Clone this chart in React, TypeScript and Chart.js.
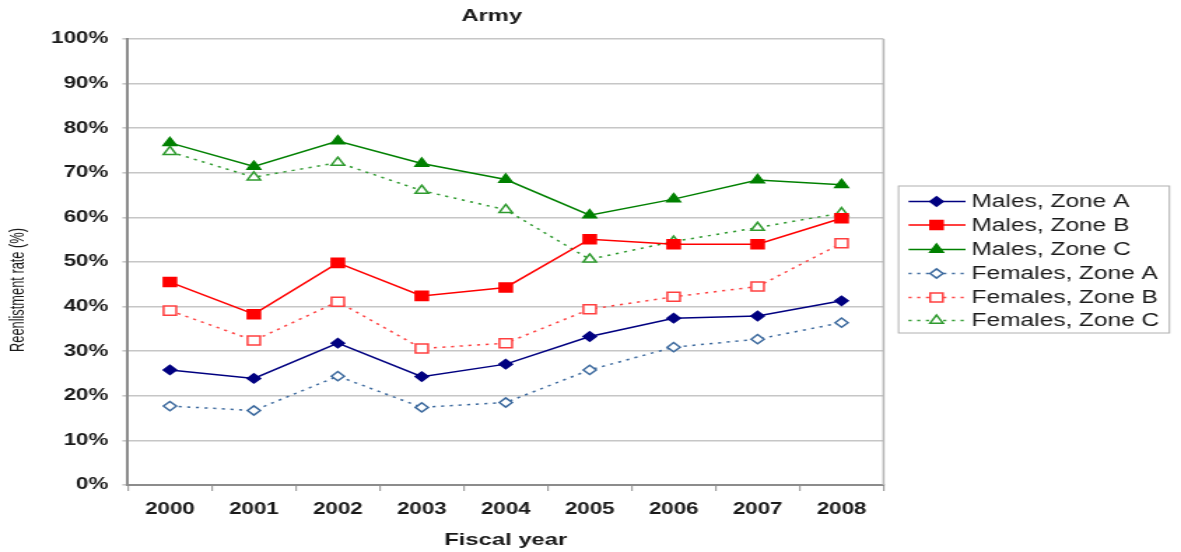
import React, { useEffect, useRef } from "react";
import { Chart, registerables } from "chart.js";

Chart.register(...registerables);

const years = ["2000", "2001", "2002", "2003", "2004", "2005", "2006", "2007", "2008"];
const malesA = [25.8, 23.9, 31.8, 24.3, 27.1, 33.3, 37.4, 37.9, 41.3];
const malesB = [45.5, 38.3, 49.8, 42.4, 44.3, 55.1, 54.0, 54.0, 59.8];
const malesC = [76.7, 71.4, 77.1, 72.1, 68.5, 60.5, 64.1, 68.4, 67.3];
const femalesA = [17.7, 16.7, 24.4, 17.4, 18.5, 25.8, 30.9, 32.7, 36.4];
const femalesB = [39.1, 32.4, 41.1, 30.6, 31.8, 39.4, 42.2, 44.5, 54.2];
const femalesC = [74.7, 69.0, 72.3, 66.0, 61.7, 50.6, 54.6, 57.7, 61.0];
const yTicks = [0, 10, 20, 30, 40, 50, 60, 70, 80, 90, 100];

const seriesNames = [
  "Males, Zone A",
  "Males, Zone B",
  "Males, Zone C",
  "Females, Zone A",
  "Females, Zone B",
  "Females, Zone C",
];

// Reference image is horizontally stretched; render narrower canvas and stretch via CSS
const OUT_W = 1181;
const OUT_H = 552;
const S = 1.4;
const W = Math.round(OUT_W / S);
const H = OUT_H;
const FONT = "'Liberation Sans', Arial, sans-serif";

type Style = {
  color: string;
  fill: string;
  shape: "diamond" | "square" | "triangle";
  dash: number[];
  radius: number;
};

const styles: Style[] = [
  { color: "#000080", fill: "#000080", shape: "diamond", dash: [], radius: 4.6 },
  { color: "#ff0000", fill: "#ff0000", shape: "square", dash: [], radius: 6.4 },
  { color: "#008000", fill: "#008000", shape: "triangle", dash: [], radius: 5.4 },
  { color: "#3d6a9e", fill: "#ffffff", shape: "diamond", dash: [2.2, 4], radius: 4.6 },
  { color: "#ff4040", fill: "#ffffff", shape: "square", dash: [2.2, 4], radius: 6.4 },
  { color: "#2e9a2e", fill: "#ffffff", shape: "triangle", dash: [2.2, 4], radius: 5.4 },
];

const shapeToPointStyle = { diamond: "rectRot", square: "rect", triangle: "triangle" } as const;

function drawMarker(ctx: CanvasRenderingContext2D, st: Style, x: number, y: number) {
  const r = st.radius;
  ctx.save();
  ctx.setLineDash([]);
  ctx.beginPath();
  if (st.shape === "diamond") {
    ctx.moveTo(x, y - r);
    ctx.lineTo(x + r, y);
    ctx.lineTo(x, y + r);
    ctx.lineTo(x - r, y);
    ctx.closePath();
  } else if (st.shape === "square") {
    const h = r * Math.SQRT1_2;
    ctx.rect(x - h, y - h, 2 * h, 2 * h);
  } else {
    const a = r * 0.866;
    ctx.moveTo(x, y - r);
    ctx.lineTo(x + a, y + r / 2);
    ctx.lineTo(x - a, y + r / 2);
    ctx.closePath();
  }
  ctx.fillStyle = st.fill;
  ctx.fill();
  ctx.lineWidth = 1.5;
  ctx.strokeStyle = st.color;
  ctx.stroke();
  ctx.restore();
}

const decorPlugin = {
  id: "decor",
  afterDraw(chart: any) {
    const ctx: CanvasRenderingContext2D = chart.ctx;
    const ca = chart.chartArea;
    ctx.save();
    // right border of plot
    ctx.strokeStyle = "#b8b8b8";
    ctx.lineWidth = 1.6;
    ctx.beginPath();
    ctx.moveTo(ca.right, ca.top);
    ctx.lineTo(ca.right, ca.bottom);
    ctx.stroke();

    const cx = (ca.left + ca.right) / 2;
    ctx.fillStyle = "#1a1a1a";
    ctx.textAlign = "center";
    ctx.textBaseline = "middle";
    ctx.font = `bold 17px ${FONT}`;
    ctx.fillText("Army", 492 / S, 16);
    ctx.fillText("Fiscal year", cx, 540);

    // y-axis title (narrow lettering, fitted to reference length)
    ctx.save();
    ctx.translate(18 / S, 290);
    ctx.rotate(-Math.PI / 2);
    ctx.font = `15px ${FONT}`;
    const tw = ctx.measureText("Reenlistment rate (%)").width;
    ctx.scale(124 / tw, 1);
    ctx.fillText("Reenlistment rate (%)", 0, 0);
    ctx.restore();

    // legend
    const lx = 899 / S;
    const ly = 186;
    const lw = (1170 - 899) / S;
    const lh = 333 - 186;
    ctx.strokeStyle = "#b0b0b0";
    ctx.lineWidth = 1;
    ctx.strokeRect(lx, ly, lw, lh);
    const rowY = [201.5, 225, 249.5, 273.5, 297.5, 320.5];
    ctx.font = `17.5px ${FONT}`;
    ctx.textAlign = "left";
    seriesNames.forEach((name, i) => {
      const st = styles[i];
      const y = rowY[i];
      ctx.save();
      ctx.strokeStyle = st.color;
      ctx.lineWidth = 1.5;
      ctx.setLineDash(st.dash);
      ctx.beginPath();
      ctx.moveTo(909 / S, y);
      ctx.lineTo(966 / S, y);
      ctx.stroke();
      ctx.restore();
      drawMarker(ctx, st, 937 / S, y);
      ctx.fillStyle = "#1a1a1a";
      ctx.fillText(name, 972 / S, y + 1);
    });
    ctx.restore();
  },
};

export default function App() {
  const ref = useRef<HTMLCanvasElement | null>(null);

  useEffect(() => {
    if (!ref.current) return;
    const allData = [malesA, malesB, malesC, femalesA, femalesB, femalesC];
    const chart = new Chart(ref.current, {
      type: "line",
      data: {
        labels: years,
        datasets: allData.map((d, i) => ({
          label: seriesNames[i],
          data: d,
          borderColor: styles[i].color,
          backgroundColor: styles[i].fill,
          borderWidth: 1.5,
          borderDash: styles[i].dash,
          pointStyle: shapeToPointStyle[styles[i].shape],
          pointRadius: styles[i].radius,
          pointBorderWidth: 1.5,
          pointBorderColor: styles[i].color,
          pointBackgroundColor: styles[i].fill,
          tension: 0,
          fill: false,
        })),
      },
      options: {
        responsive: false,
        animation: false,
        events: [],
        layout: { padding: { top: 39, left: 0, right: W - 884 / S, bottom: 0 } },
        plugins: {
          legend: { display: false },
          title: { display: false },
          tooltip: { enabled: false },
        },
        scales: {
          x: {
            offset: true,
            grid: {
              offset: true,
              drawOnChartArea: false,
              drawTicks: true,
              tickLength: 6,
              color: "#a0a0a0",
              lineWidth: 1.2,
            },
            border: { color: "#8c8c8c", width: 2 },
            ticks: {
              color: "#1a1a1a",
              font: { family: FONT, size: 16, weight: "bold" },
              padding: 9,
              maxRotation: 0,
            },
            afterFit: (s: any) => {
              s.height = H - 485;
            },
          },
          y: {
            min: 0,
            max: 100,
            afterBuildTicks: (s: any) => {
              s.ticks = yTicks.map((v) => ({ value: v }));
            },
            grid: {
              color: "#c6c6c6",
              lineWidth: 1.6,
              tickLength: 4,
            },
            border: { color: "#8c8c8c", width: 2 },
            ticks: {
              color: "#1a1a1a",
              font: { family: FONT, size: 16, weight: "bold" },
              padding: 10,
              callback: (v: any) => `${v}%`,
            },
            afterFit: (s: any) => {
              s.width = 128 / S;
            },
          },
        },
      },
      plugins: [decorPlugin],
    });
    return () => chart.destroy();
  }, []);

  return (
    <div style={{ position: "fixed", left: 0, top: 0, width: OUT_W, height: OUT_H, background: "#fff" }}>
      <canvas
        ref={ref}
        width={W}
        height={H}
        style={{ width: `${OUT_W}px`, height: `${OUT_H}px`, display: "block" }}
      />
    </div>
  );
}
